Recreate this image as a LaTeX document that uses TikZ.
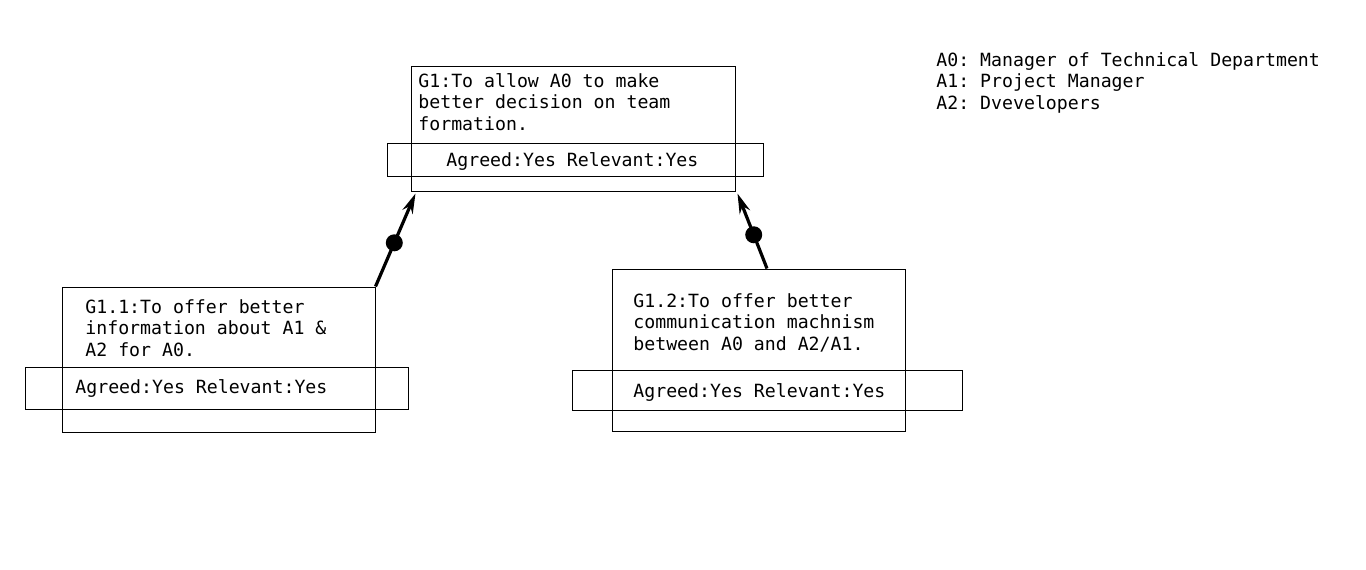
\documentclass[tikz,border=0pt]{standalone}
\usepackage{fontspec}
\setmonofont{DejaVu Sans Mono}
\usetikzlibrary{arrows.meta}

\begin{document}
\begin{tikzpicture}[x=0.5pt,y=-0.5pt,
	goal/.style = {draw, line width=0.5pt, inner sep=0pt},
	band/.style = {draw, line width=0.5pt, inner sep=0pt, minimum height=16.5pt},
	txt/.style = {anchor=base west, inner sep=0pt, align=left,
		font=\ttfamily\fontsize{9.1pt}{10.75pt}\selectfont},
	contrib/.style = {line width=1.6pt, -{Stealth[length=10pt,width=5.5pt]}},
	dot/.style = {circle, fill, inner sep=0pt, minimum size=8.5pt}]
	\useasboundingbox (0,0) rectangle (1366,569);
	% goal boxes
	\node[goal, minimum width=162pt, minimum height=62.5pt] (g1) at (573,128.5) {};
	\node[band, minimum width=188pt] (g1band) at (575,159.5) {};
	\node[goal, minimum width=156.5pt, minimum height=72.5pt] (g11) at (218.5,359.5) {};
	\node[band, minimum width=191.5pt, minimum height=21pt] (g11band) at (216.5,388) {};
	\node[goal, minimum width=146.5pt, minimum height=81pt] (g12) at (758.5,350) {};
	\node[band, minimum width=195pt, minimum height=20pt] (g12band) at (767,390) {};
	% texts (base = last line)
	\node[txt] (g1txt) at (418,130) {G1:To allow A0 to make\\better decision on team\\formation.};
	\node[txt] (g1st) at (446,166) {Agreed:Yes Relevant:Yes};
	\node[txt] (g11txt) at (85,356) {G1.1:To offer better\\information about A1 \&\\A2 for A0.};
	\node[txt] (g11st) at (75,393) {Agreed:Yes Relevant:Yes};
	\node[txt] (g12txt) at (633,350) {G1.2:To offer better\\communication machnism\\between A0 and A2/A1.};
	\node[txt] (g12st) at (633,397) {Agreed:Yes Relevant:Yes};
	\node[txt] (legend) at (936,109) {A0: Manager of Technical Department\\A1: Project Manager\\A2: Dvevelopers};
	% contributions
	\draw[contrib] (g11.north east) -- node[dot, pos=0.47] {} ([xshift=2.5pt,yshift=-1pt]g1.south west);
	\draw[contrib] ([xshift=4.25pt]g12.north) -- node[dot, pos=0.45] {} ([xshift=1pt,yshift=-1pt]g1.south east);
\end{tikzpicture}
\end{document}
